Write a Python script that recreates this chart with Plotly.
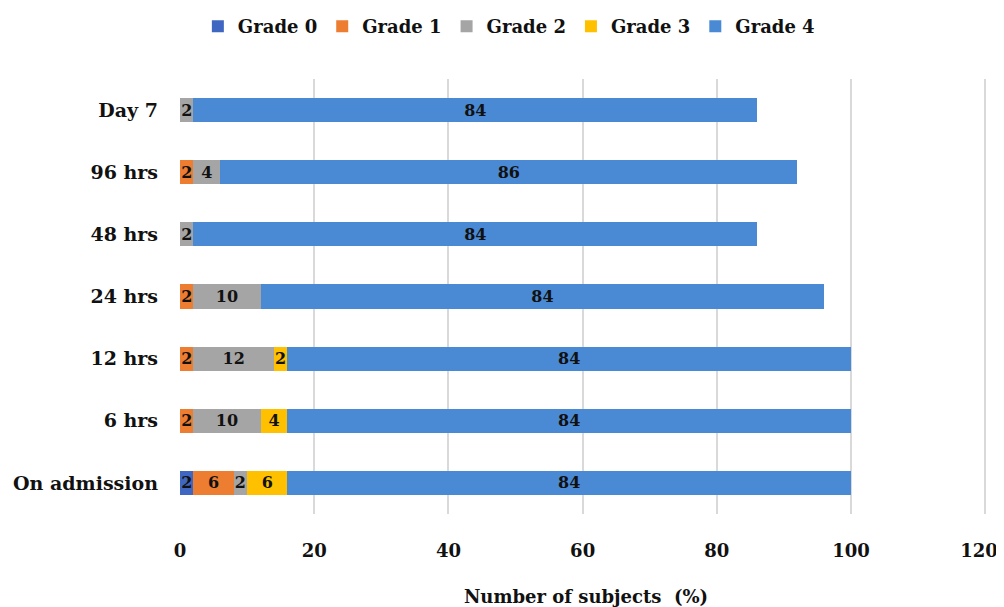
import plotly.graph_objects as go

categories = ["On admission", "6 hrs", "12 hrs", "24 hrs", "48 hrs", "96 hrs", "Day 7"]
grade0 = [2, None, None, None, None, None, None]
grade1 = [6, 2, 2, 2, None, 2, None]
grade2 = [2, 10, 12, 10, 2, 4, 2]
grade3 = [6, 4, 2, None, None, None, None]
grade4 = [84, 84, 84, 84, 84, 86, 84]
x_ticks = [0, 20, 40, 60, 80, 100, 120]
x_tick_labels = ["0", "20", "40", "60", "80", "100", "120\u00a0\u00a0"]

series = [
    ("Grade 0", grade0, "#3f67c2"),
    ("Grade 1", grade1, "#ed7d31"),
    ("Grade 2", grade2, "#a5a5a5"),
    ("Grade 3", grade3, "#ffc000"),
    ("Grade 4", grade4, "#4a8ad4"),
]

font_family = "DejaVu Serif, Liberation Serif, serif"

fig = go.Figure()
for name, vals, color in series:
    fig.add_trace(go.Bar(
        y=categories, x=vals, name=name, orientation="h",
        marker=dict(color=color, line=dict(width=0)),
        text=[("" if v is None else str(v)) for v in vals],
        textposition="inside", insidetextanchor="middle", textangle=0,
        textfont=dict(color="#111111", size=16, family=font_family, weight="bold"),
        hoverinfo="x+name",
    ))

# page body has an 8px margin, so the figure is a bit smaller than the window
fig.update_layout(
    barmode="stack",
    bargap=0.61,
    width=996, height=599,
    margin=dict(l=172, r=12, t=71, b=93, autoexpand=False),
    plot_bgcolor="white", paper_bgcolor="white",
    font=dict(family=font_family, size=18, color="#111111", weight="bold"),
    uniformtext=dict(minsize=16, mode="show"),
    legend=dict(orientation="h", x=0.405, xanchor="center", y=1.0, yanchor="top",
                yref="container", font=dict(size=18, weight="bold"), traceorder="normal",
                itemwidth=30),
    showlegend=True,
    xaxis=dict(range=[0, 121], tickvals=x_ticks, ticktext=x_tick_labels,
               showgrid=True, gridcolor="#d9d9d9",
               gridwidth=1.5, zeroline=False, showline=False, ticks="",
               tickfont=dict(size=18, weight="bold"), ticklabelstandoff=24, automargin=False,
               ticklabeloverflow="allow",
               title=dict(text="Number of subjects  (%)", font=dict(size=18, weight="bold"),
                          standoff=34)),
    yaxis=dict(showgrid=False, zeroline=False, showline=False, ticks="", automargin=False,
               tickfont=dict(size=19, weight="bold"), ticklabelstandoff=21),
)

fig.write_html("out.html")
